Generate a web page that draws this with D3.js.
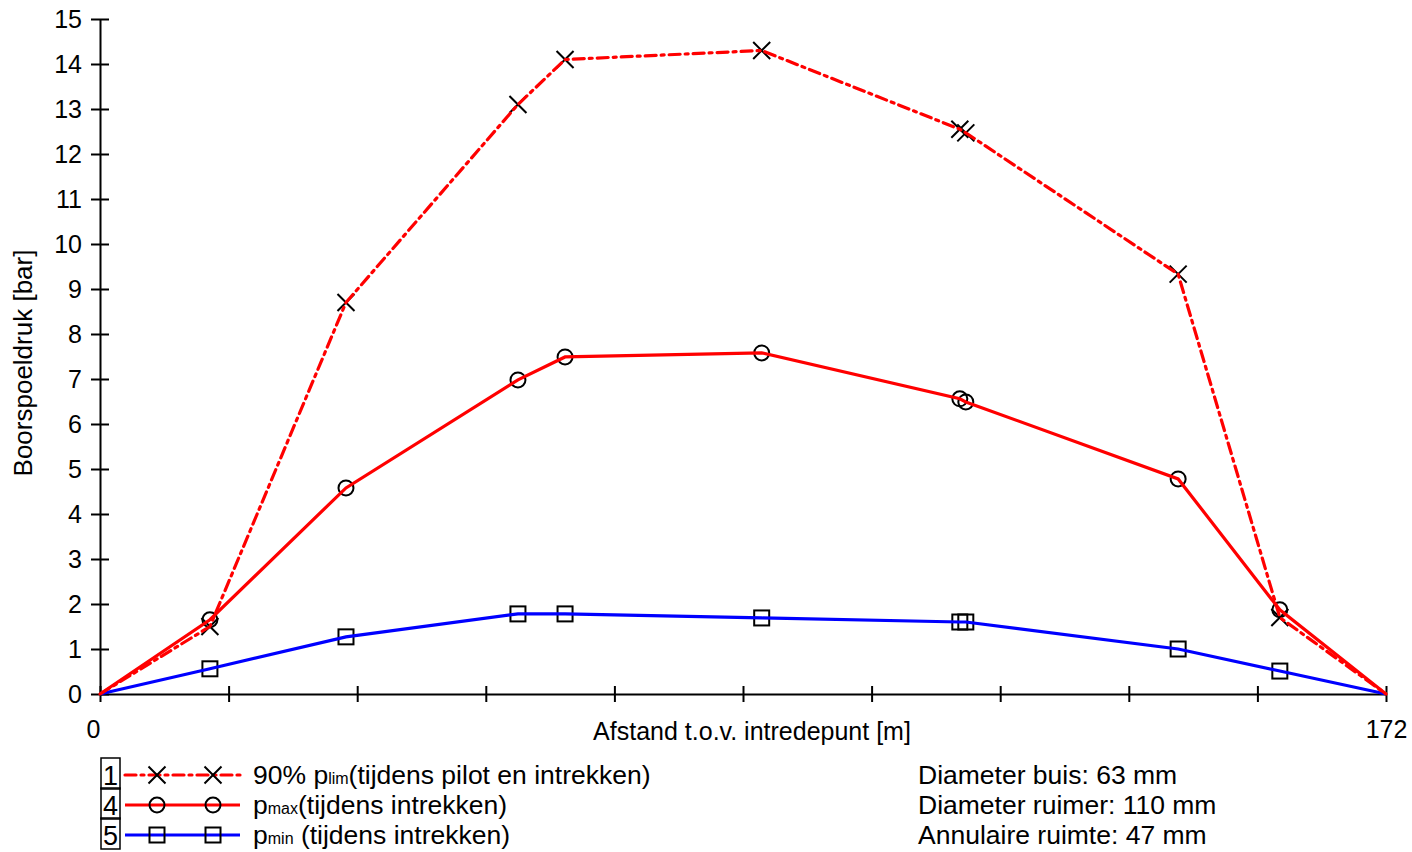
<!DOCTYPE html>
<html>
<head>
<meta charset="utf-8">
<script src="https://cdn.jsdelivr.net/npm/d3@7"></script>
<style>
  body { margin: 0; background: #fff; }
  text { font-family: "Liberation Sans", Arial, sans-serif; fill: #000; }
</style>
</head>
<body>
<div id="chart"></div>
<script>
// Distance along the bore [m]
const distance = [0, 14.7, 32.9, 55.9, 62.2, 88.5, 115.0, 115.8, 144.2, 157.8, 172];

// Pressures [bar]
const pLim = [0, 1.5, 8.7, 13.1, 14.1, 14.3, 12.55, 12.47, 9.33, 1.7, 0];
const pMax = [0, 1.65, 4.58, 6.98, 7.49, 7.58, 6.56, 6.49, 4.78, 1.87, 0];
const pMin = [0, 0.56, 1.27, 1.78, 1.78, 1.69, 1.6, 1.6, 1.0, 0.51, 0];

const yTicks = d3.range(0, 16);
const xTicks = d3.range(0, 11).map(i => +(i * 17.2).toFixed(1));
const xTickLabels = [0, 172];

const legendItems = [
  {num: "1", main: "90% p", sub: "lim", rest: "(tijdens pilot en intrekken)", color: "#ff0000", dash: "11,5,3,5", marker: "x"},
  {num: "4", main: "p", sub: "max", rest: "(tijdens intrekken)", color: "#ff0000", dash: null, marker: "circle"},
  {num: "5", main: "p", sub: "min", rest: " (tijdens intrekken)", color: "#0000ff", dash: null, marker: "square"}
];
const infoLines = ["Diameter buis: 63 mm", "Diameter ruimer: 110 mm", "Annulaire ruimte: 47 mm"];

const width = 1412, height = 852;
const svg = d3.select("#chart").append("svg")
  .attr("width", width)
  .attr("height", height);

// scales
const x = d3.scaleLinear().domain([0, 172]).range([100, 1386]);
const y = d3.scaleLinear().domain([0, 15]).range([694, 19]);

// y axis with crossing ticks
const yAxis = svg.append("g")
  .attr("transform", "translate(100,0)")
  .call(d3.axisLeft(y).tickValues(yTicks).tickSizeOuter(0).tickPadding(12));
yAxis.select(".domain").attr("stroke", "#000").attr("stroke-width", 2);
yAxis.selectAll(".tick line").attr("x1", -9).attr("x2", 9).attr("stroke-width", 2);
yAxis.selectAll(".tick text").style("font-size", "25px").attr("font-family", null);

// x axis with crossing ticks
const xAxis = svg.append("g")
  .attr("transform", "translate(0,694)")
  .call(d3.axisBottom(x).tickValues(xTicks).tickSizeOuter(0)
    .tickFormat(d => xTickLabels.includes(d) ? d : ""));
xAxis.select(".domain").attr("stroke-width", 2);
xAxis.selectAll(".tick line").attr("y1", -8).attr("y2", 8).attr("stroke-width", 2);
xAxis.selectAll(".tick text")
  .attr("y", 26)
  .attr("dx", d => d === 0 ? -7 : 0)
  .style("font-size", "25px").attr("font-family", null);

// axis titles
svg.append("text")
  .attr("x", 752).attr("y", 740)
  .attr("text-anchor", "middle")
  .style("font-size", "25px")
  .text("Afstand t.o.v. intredepunt [m]");

svg.append("text")
  .attr("transform", "translate(32,363) rotate(-90)")
  .attr("text-anchor", "middle")
  .style("font-size", "26px")
  .text("Boorspoeldruk [bar]");

// marker drawing
function drawMarker(g, type, cx, cy) {
  if (type === "x") {
    g.append("path")
      .attr("d", `M${cx - 8.5},${cy - 8.5}L${cx + 8.5},${cy + 8.5}M${cx - 8.5},${cy + 8.5}L${cx + 8.5},${cy - 8.5}`)
      .attr("stroke", "#000").attr("stroke-width", 2).attr("fill", "none");
  } else if (type === "circle") {
    g.append("circle")
      .attr("cx", cx).attr("cy", cy).attr("r", 7.5)
      .attr("stroke", "#000").attr("stroke-width", 2).attr("fill", "none");
  } else {
    g.append("rect")
      .attr("x", cx - 7.5).attr("y", cy - 7.5).attr("width", 15).attr("height", 15)
      .attr("stroke", "#000").attr("stroke-width", 2).attr("fill", "none");
  }
}

const series = [
  {values: pMin, item: legendItems[2]},
  {values: pLim, item: legendItems[0]},
  {values: pMax, item: legendItems[1]}
];

const line = d3.line()
  .x(d => x(d[0]))
  .y(d => y(d[1]));

const markerLayer = svg.append("g");
const lineLayer = svg.append("g");

series.forEach(s => {
  const pts = distance.map((d, i) => [d, s.values[i]]);
  // markers only on interior points
  pts.slice(1, -1).forEach(p => drawMarker(markerLayer, s.item.marker, x(p[0]), y(p[1])));
  lineLayer.append("path")
    .datum(pts)
    .attr("d", line)
    .attr("fill", "none")
    .attr("stroke", s.item.color)
    .attr("stroke-width", 3.2)
    .attr("stroke-linecap", s.item.dash ? "round" : "butt")
    .attr("stroke-dasharray", s.item.dash);
});

// legend
const legend = svg.append("g");
legendItems.forEach((d, i) => {
  const cy = 775 + i * 30;
  legend.append("rect")
    .attr("x", 101).attr("y", cy - 17).attr("width", 19).attr("height", 31)
    .attr("fill", "none").attr("stroke", "#000").attr("stroke-width", 1.5);
  legend.append("text")
    .attr("x", 110.5).attr("y", cy + 10)
    .attr("text-anchor", "middle")
    .style("font-size", "27px")
    .text(d.num);
  legend.append("line")
    .attr("x1", 125).attr("x2", 240).attr("y1", cy).attr("y2", cy)
    .attr("stroke", d.color).attr("stroke-width", 3.2)
    .attr("stroke-linecap", d.dash ? "round" : "butt")
    .attr("stroke-dasharray", d.dash);
  drawMarker(legend, d.marker, 157, cy);
  drawMarker(legend, d.marker, 213, cy);
  const t = legend.append("text")
    .attr("x", 253).attr("y", cy + 9)
    .style("font-size", "26.5px");
  t.append("tspan").text(d.main);
  t.append("tspan").style("font-size", "16px").text(d.sub);
  t.append("tspan").text(d.rest);
});

svg.append("g").selectAll("text")
  .data(infoLines)
  .join("text")
  .attr("x", 918)
  .attr("y", (d, i) => 784 + i * 30)
  .style("font-size", "26.5px")
  .text(d => d);
</script>
</body>
</html>
